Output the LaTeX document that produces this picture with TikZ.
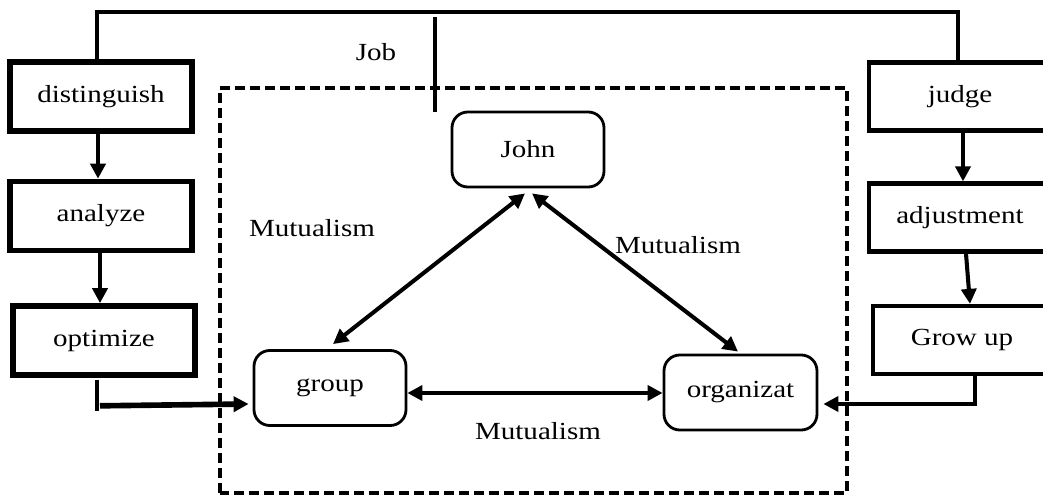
\documentclass[tikz,border=0pt]{standalone}
\usepackage{fontspec}
\setmainfont{Liberation Serif}[FakeStretch=1.18]
\usepackage{tikz}
\usetikzlibrary{%
        arrows.meta
    }
\tikzset{%
    every node/.style={font=\fontsize{14}{16}\selectfont},
    stepleft/.style={draw, line width=3.2pt, minimum width=3.64cm,
        minimum height=1.38cm, inner sep=0pt},
    stepright/.style={draw, line width=2.4pt, minimum width=3.64cm,
        minimum height=1.36cm, inner sep=0pt},
    party/.style={draw, line width=1.6pt, rounded corners=9pt,
        minimum width=3.04cm, minimum height=1.5cm, inner sep=0pt},
    link/.style={line width=2.3pt,
        -{Triangle[length=0.3cm, width=0.3cm]}},
    mutual/.style={line width=2.3pt,
        {Triangle[length=0.3cm, width=0.3cm]}-{Triangle[length=0.3cm, width=0.3cm]}}
}

\begin{document}
\begin{tikzpicture}

    \clip (0, 0) rectangle (20.86, 9.92);

    % left column
    \node[stepleft] (distinguish) at (2.02, 7.99) {distinguish};
    \node[stepleft] (analyze) at (2.02, 5.6) {analyze};
    \node[stepleft] (optimize) at (2.08, 3.11) {optimize};

    % right column
    \node[stepright] (judge) at (19.2, 7.99) {judge};
    \node[stepright] (adjustment) at (19.2, 5.57) {adjustment};
    \node[stepright, minimum width=3.56cm] (growup) at (19.24, 3.12) {Grow up};

    % the three parties
    \draw[dashed, line width=2.4pt, dash pattern=on 0.2cm off 0.1cm]
        (4.4, 0.06) rectangle (16.94, 8.16);
    \node[party] (john) at (10.56, 6.93) {John};
    \node[party] (group) at (6.6, 2.16) {group};
    \node[party, minimum width=3.06cm] (organizat) at (14.81, 2.07) {organizat};

    \coordinate (top) at (10, 9.68);
    \draw[line width=2.4pt] ([xshift=-0.08cm] distinguish.north) |- (top)
        -| ([xshift=-0.04cm] judge.north);

    \coordinate (jobtop) at (8.7, 9.58);
    \coordinate (jobend) at (8.7, 7.68);
    \draw[line width=2pt] (jobtop) -- (jobend);
    \node (job) at (7.52, 8.88) {Job};

    \draw[link] ([xshift=-0.06cm] distinguish.south) --
        ([xshift=-0.06cm] analyze.north);
    \draw[link] ([xshift=-0.02cm] analyze.south) --
        ([xshift=-0.08cm] optimize.north);
    \draw[link] ([xshift=0.06cm] judge.south) --
        ([xshift=0.06cm] adjustment.north);
    \draw[link] ([xshift=0.12cm] adjustment.south) --
        ([xshift=0.16cm] growup.north);

    \draw[line width=2pt] ([xshift=-0.14cm, yshift=-0.04cm] optimize.south)
        -- ++(0, -0.62);
    \draw[link, line width=3.2pt] ([xshift=-0.08cm, yshift=-0.56cm] optimize.south)
        -- ([xshift=-0.08cm, yshift=-0.32cm] group.west);
    \draw[link] ([xshift=0.26cm] growup.south) |-
        ([xshift=0.1cm, yshift=-0.23cm] organizat.east);

    \draw[mutual] ([xshift=-0.06cm, yshift=-0.1cm] john.south) --
        ([xshift=0.06cm, yshift=0.1cm] group.north);
    \draw[mutual] ([xshift=0.08cm, yshift=-0.1cm] john.south) --
        ([xshift=-0.05cm, yshift=0.04cm] organizat.north);
    \draw[mutual] ([yshift=-0.1cm] group.east) --
        ([yshift=-0.1cm] group.east -| organizat.west);

    \node (mutleft) at (6.24, 5.36) {Mutualism};
    \node (mutright) at (13.56, 5.02) {Mutualism};
    \node (mutbottom) at (10.76, 1.3) {Mutualism};

\end{tikzpicture}
\end{document}
